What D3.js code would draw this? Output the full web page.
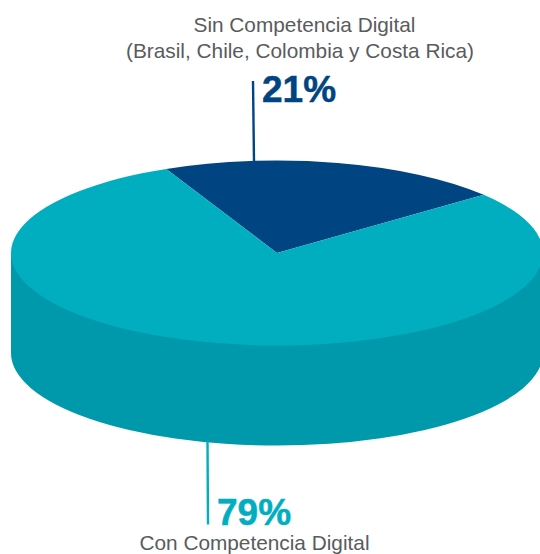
<!DOCTYPE html>
<html>
<head>
<meta charset="utf-8">
<script src="https://cdn.jsdelivr.net/npm/d3@7/dist/d3.min.js"></script>
<style>
html, body { margin: 0; padding: 0; background: #fff; }
svg { display: block; }
text { font-family: "Liberation Sans", Arial, sans-serif; }
</style>
</head>
<body>
<svg id="chart" width="540" height="554"></svg>
<script>
// Share of countries with and without a digital competence framework
const categories = ["Sin Competencia Digital", "Con Competencia Digital"];
const shares = [21, 79];
const topColors = ["#004481", "#00AEC0"];
const sideColor = "#0098AB";
const noteLines = ["Sin Competencia Digital", "(Brasil, Chile, Colombia y Costa Rica)"];
const footLines = ["Con Competencia Digital"];

const width = 540, height = 554;
const cx = 277, cy = 253, rx = 266, ry = 92.5, depth = 100;
const tilt = ry / rx;
const firstSliceStart = -24.6 * Math.PI / 180;

const svg = d3.select("#chart");

// Wall of the cylinder: lower disc plus the band joining it to the top face
const wall = svg.append("g");
wall.append("ellipse")
  .attr("cx", cx).attr("cy", cy + depth)
  .attr("rx", rx).attr("ry", ry)
  .attr("fill", sideColor);
wall.append("rect")
  .attr("x", cx - rx).attr("y", cy)
  .attr("width", rx * 2).attr("height", depth)
  .attr("fill", sideColor);

// Top face: an ordinary pie squashed vertically
const pie = d3.pie().sort(null).value(d => d)
  .startAngle(firstSliceStart)
  .endAngle(firstSliceStart + 2 * Math.PI);
const arc = d3.arc().innerRadius(0).outerRadius(rx);

svg.append("g")
  .attr("transform", `translate(${cx},${cy}) scale(1,${tilt})`)
  .selectAll("path")
  .data(pie(shares))
  .join("path")
  .attr("d", arc)
  .attr("fill", (d, i) => topColors[i]);

// Leader lines
svg.append("line")
  .attr("x1", 253).attr("y1", 81).attr("x2", 254).attr("y2", 162)
  .attr("stroke", topColors[0]).attr("stroke-width", 2.4);
svg.append("line")
  .attr("x1", 207.5).attr("y1", 441).attr("x2", 208).attr("y2", 524.5)
  .attr("stroke", topColors[1]).attr("stroke-width", 2.4);

// Labels
const gray = "#5A5B5D";
const noteSize = 20.8;
svg.append("text").attr("x", 304.5).attr("y", 32)
  .attr("text-anchor", "middle").attr("font-size", noteSize).attr("fill", gray)
  .text(noteLines[0]);
svg.append("text").attr("x", 300).attr("y", 58)
  .attr("text-anchor", "middle").attr("font-size", noteSize).attr("fill", gray)
  .text(noteLines[1]);
svg.append("text").attr("x", 262).attr("y", 102)
  .attr("font-size", 37).attr("font-weight", 700).attr("fill", topColors[0])
  .attr("stroke", topColors[0]).attr("stroke-width", 0.5)
  .text(shares[0] + "%");
svg.append("text").attr("x", 217).attr("y", 525)
  .attr("font-size", 37).attr("font-weight", 700).attr("fill", topColors[1])
  .attr("stroke", topColors[1]).attr("stroke-width", 0.5)
  .text(shares[1] + "%");
svg.append("text").attr("x", 254.5).attr("y", 550)
  .attr("text-anchor", "middle").attr("font-size", noteSize).attr("fill", gray)
  .text(footLines[0]);
</script>
</body>
</html>
